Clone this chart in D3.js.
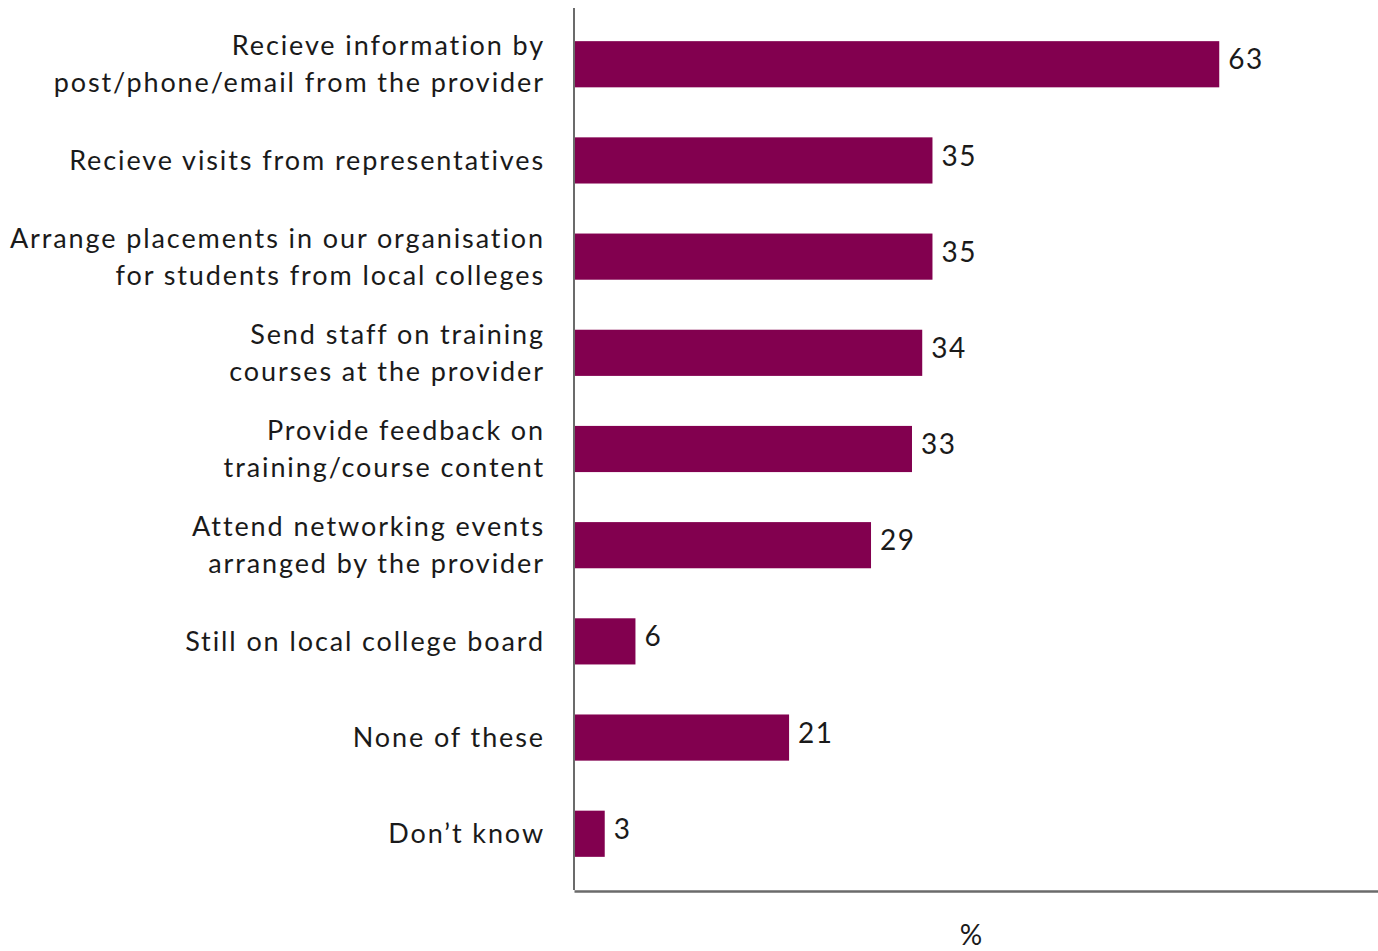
<!DOCTYPE html>
<html><head><meta charset="utf-8">
<script src="https://cdn.jsdelivr.net/npm/d3@7"></script>
<style>body{margin:0;background:#fff}</style>
</head><body>
<svg id="chart" width="1378" height="951"></svg>
<script>
const categories = [
  ["Recieve information by", "post/phone/email from the provider"],
  ["Recieve visits from representatives"],
  ["Arrange placements in our organisation", "for students from local colleges"],
  ["Send staff on training", "courses at the provider"],
  ["Provide feedback on", "training/course content"],
  ["Attend networking events", "arranged by the provider"],
  ["Still on local college board"],
  ["None of these"],
  ["Don’t know"]
];
const values = [63, 35, 35, 34, 33, 29, 6, 21, 3];
const valueLabels = ["63", "35", "35", "34", "33", "29", "6", "21", "3"];
const axisTitle = "%";

(function(){
const svg = d3.select("#chart");
const font = "Lato, 'Open Sans', sans-serif";
const mLeft = 574, mRight = 1378, mTop = 8, mBottom = 891;

const x = d3.scaleLinear().domain([0, 78.5]).range([mLeft, mRight]);
const y = d3.scaleBand().domain(d3.range(values.length)).range([20, 878]).paddingInner(0.52).paddingOuter(0.22);

svg.append("g").selectAll("rect").data(values).join("rect")
  .attr("x", x(0)).attr("y", (d,i)=>y(i))
  .attr("width", d=>x(d)-x(0)).attr("height", y.bandwidth())
  .attr("fill", "#82004f");

svg.append("g").selectAll("text").data(valueLabels).join("text")
  .attr("x", (d,i)=>x(values[i]) + 9).attr("y", (d,i)=>y(i)+y.bandwidth()/2 - 2)
  .attr("dominant-baseline", "middle")
  .attr("font-family", font).attr("font-size", 28).attr("fill", "#1a1a1a")
  .attr("letter-spacing", 1.5)
  .text(d=>d);

const lab = svg.append("g").selectAll("text").data(categories).join("text")
  .attr("text-anchor", "end")
  .attr("font-family", font).attr("font-size", 27).attr("fill", "#1a1a1a")
  .attr("letter-spacing", 1.9)
  .attr("transform", (d,i)=>`translate(545,${y(i)+y.bandwidth()/2})`);
lab.each(function(lines){
  const t = d3.select(this);
  const lh = 37;
  lines.forEach((l,k)=>{
    t.append("tspan").attr("x", 0)
      .attr("y", (k - (lines.length-1)/2)*lh)
      .attr("dy", "0.35em").text(l);
  });
});

const yAxis = d3.axisLeft(y).tickSize(0).tickFormat("");
svg.append("g").attr("transform", `translate(${mLeft},0)`).call(yAxis)
  .call(g=>g.select(".domain").attr("d", `M0,${mTop}V${mBottom-1}`).attr("stroke","#6b6b6b").attr("stroke-width",2));
const xAxis = d3.axisBottom(x).tickSize(0).tickFormat("").ticks(0);
svg.append("g").attr("transform", `translate(0,${mBottom})`).call(xAxis)
  .call(g=>g.select(".domain").attr("stroke","#6b6b6b").attr("stroke-width",2.5));

svg.append("text").attr("x", 971).attr("y", 938).attr("text-anchor","middle")
  .attr("dominant-baseline","middle")
  .attr("font-family", font).attr("font-size", 28).attr("fill","#1a1a1a").text(axisTitle);
})();
</script>
</body></html>
